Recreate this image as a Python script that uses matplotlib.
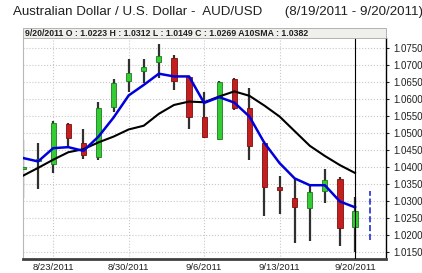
import matplotlib
matplotlib.use("Agg")
import matplotlib.pyplot as plt
from matplotlib.patches import Rectangle
import numpy as np

plt.rcParams["font.family"] = ["Liberation Sans", "DejaVu Sans"]

# AUD/USD daily candles, 8/19/2011 - 9/20/2011
dates = ["8/19", "8/22", "8/23", "8/24", "8/25", "8/26", "8/29", "8/30",
         "8/31", "9/1", "9/2", "9/5", "9/6", "9/7", "9/8", "9/9", "9/12",
         "9/13", "9/14", "9/15", "9/16", "9/19", "9/20"]
opens = [1.0393, 1.0418, 1.0409, 1.0526, 1.0470, 1.0430, 1.0577, 1.0654,
         1.0682, 1.0707, 1.0720, 1.0664, 1.0548, 1.0482, 1.0658, 1.0574,
         1.0470, 1.0342, 1.0308, 1.0279, 1.0330, 1.0364, 1.0223]
highs = [1.0479, 1.0470, 1.0536, 1.0529, 1.0511, 1.0592, 1.0659, 1.0717,
         1.0717, 1.0762, 1.0729, 1.0666, 1.0619, 1.0652, 1.0661, 1.0631,
         1.0475, 1.0374, 1.0367, 1.0347, 1.0394, 1.0369, 1.0312]
lows = [1.0309, 1.0335, 1.0383, 1.0458, 1.0423, 1.0419, 1.0560, 1.0619,
        1.0648, 1.0661, 1.0626, 1.0511, 1.0484, 1.0480, 1.0566, 1.0421,
        1.0254, 1.0262, 1.0177, 1.0183, 1.0293, 1.0166, 1.0149]
closes = [1.0401, 1.0422, 1.0530, 1.0484, 1.0435, 1.0573, 1.0646, 1.0677,
          1.0693, 1.0726, 1.0654, 1.0546, 1.0489, 1.0651, 1.0573, 1.0460,
          1.0340, 1.0333, 1.0281, 1.0325, 1.0362, 1.0220, 1.0269]
# short moving average (blue) and A10SMA (black)
fast_ma = [1.0426, 1.0416, 1.0455, 1.0458, 1.0447, 1.0489, 1.0545, 1.0610,
           1.0641, 1.0674, 1.0666, 1.0666, 1.0588, 1.0605, 1.0589, 1.0548,
           1.0470, 1.0411, 1.0366, 1.0346, 1.0346, 1.0298, 1.0281]
sma10 = [1.0374, 1.0397, 1.0421, 1.0443, 1.0452, 1.0472, 1.0489, 1.0510,
         1.0521, 1.0556, 1.0582, 1.0592, 1.0590, 1.0607, 1.0622, 1.0609,
         1.0580, 1.0548, 1.0505, 1.0462, 1.0432, 1.0405, 1.0382]
# next-day range marker (blue dashed)
proj_low, proj_high = 1.0185, 1.0330
yticks = [1.0150, 1.0200, 1.0250, 1.0300, 1.0350, 1.0400, 1.0450, 1.0500,
          1.0550, 1.0600, 1.0650, 1.0700, 1.0750]
xtick_idx = [2, 7, 12, 17, 22]

fig = plt.figure(figsize=(4.22, 2.73), dpi=100)
ax = fig.add_axes([23 / 422, 14 / 273, 363 / 422, 221 / 273])

x = np.arange(len(dates))
o = np.array(opens)
c = np.array(closes)
up = c >= o

ax.vlines(x, lows, highs, color="#303030", lw=1.6, zorder=2)
bottoms = np.minimum(o, c)
heights = np.maximum(np.abs(c - o), 0.0002)
ax.bar(x[up], heights[up], bottom=bottoms[up], width=0.34,
       color="#33cc33", edgecolor="#1f7a1f", lw=0.6, zorder=3)
ax.bar(x[~up], heights[~up], bottom=bottoms[~up], width=0.34,
       color="#c41e1e", edgecolor="#7a1010", lw=0.6, zorder=3)

ax.plot(x, sma10, color="black", lw=1.5, zorder=4)
ax.plot(x, fast_ma, color="#0000dd", lw=1.8, zorder=5)

ax.vlines(len(dates), proj_low, proj_high, color="#2030d0", lw=1.2,
          linestyles="--", zorder=4)
ax.axvline(len(dates) - 1, color="black", lw=0.8, zorder=6)

ax.set_xlim(0, 24.05)
ax.set_ylim(1.0129, 1.0779)

ax.set_yticks(yticks)
ax.set_yticklabels([f"{v:.4f}" for v in yticks])
ax.yaxis.tick_right()
ax.set_xticks(xtick_idx)
ax.set_xticklabels([dates[i] + "/2011" for i in xtick_idx])
ax.tick_params(axis="y", labelsize=7, length=2, pad=3, colors="#202020")
ax.tick_params(axis="x", labelsize=6.8, length=0, pad=3, colors="#202020")

ax.grid(True, color="#c8c8c8", linestyle=":", lw=0.8)
ax.set_axisbelow(True)

ax.spines["top"].set_visible(False)
ax.spines["left"].set_color("#b8b8b8")
ax.spines["left"].set_linewidth(0.8)
ax.spines["right"].set_color("black")
ax.spines["right"].set_linewidth(1.0)
ax.spines["bottom"].set_color("#404040")
ax.spines["bottom"].set_linewidth(2.0)

# info box above the plot
box = Rectangle((23 / 422, 235 / 273), 363 / 422, 10 / 273,
                transform=fig.transFigure, facecolor="#efefeb",
                edgecolor="#a8a8a8", lw=0.6)
fig.patches.append(box)
info = (f"{dates[-1]}/2011 O : {opens[-1]:.4f} H : {highs[-1]:.4f} "
        f"L : {lows[-1]:.4f} C : {closes[-1]:.4f} A10SMA : {sma10[-1]:.4f}")
fig.text(25 / 422, 240 / 273, info, fontsize=6.3, fontweight="bold",
         va="center", ha="left", color="#202020")

fig.text(13 / 422, 261 / 273,
         "Australian Dollar / U.S. Dollar -  AUD/USD      (8/19/2011 - 9/20/2011)",
         fontsize=9.6, va="center", ha="left", color="#202020")

fig.savefig("out.png", dpi=100)
